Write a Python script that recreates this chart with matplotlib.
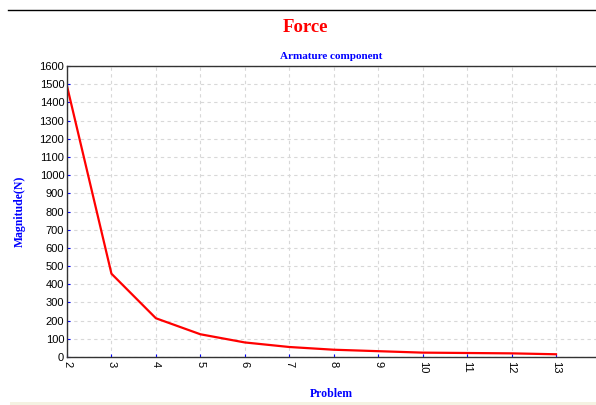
import matplotlib
matplotlib.use("Agg")
from matplotlib import pyplot as plt
from matplotlib.lines import Line2D
from matplotlib.patches import Rectangle

problem = [2, 3, 4, 5, 6, 7, 8, 9, 10, 11, 12, 13]
magnitude = [1490, 458, 213, 125, 80, 55, 40, 32, 24, 22, 20, 15]
y_ticks = list(range(0, 1700, 100))

serif = "Liberation Serif"
sans = "Liberation Sans"

fig = plt.figure(figsize=(5.96, 4.05), dpi=100)
ax = fig.add_axes([67 / 596, 1 - 357 / 405, 1 - 67 / 596, (357 - 66) / 405])

ax.plot(problem, magnitude, color="red", lw=1.6)
ax.set_xlim(2, 13.9)
ax.set_ylim(0, 1600)
ax.set_xticks(problem)
ax.set_yticks(y_ticks)
ax.set_xticklabels([str(p) for p in problem], rotation=-90, family=sans, fontsize=8)
ax.set_yticklabels([str(v) for v in y_ticks], family=sans, fontsize=8)
ax.tick_params(direction="in", length=2, color="blue", pad=2)
ax.tick_params(axis="x", pad=3)
ax.grid(ls=(0, (3, 3)), color="#d8d8d8", lw=0.8)
ax.spines["right"].set_visible(False)
for s in ["top", "bottom", "left"]:
    ax.spines[s].set_color("#333333")
    ax.spines[s].set_linewidth(1.0)

ax.set_title("Armature component", family=serif, fontweight="bold", color="blue", fontsize=8, pad=5)
ax.set_xlabel("Problem", family=serif, fontweight="bold", color="blue", fontsize=8.5, labelpad=10)
ax.set_ylabel("Magnitude(N)", family=serif, fontweight="bold", color="blue", fontsize=8.5, labelpad=10)

fig.text(305 / 596, 1 - 27 / 405, "Force", family=serif, fontweight="bold", color="red",
         fontsize=13.5, ha="center", va="center")
fig.add_artist(Line2D([8 / 596, 1], [1 - 10 / 405, 1 - 10 / 405], color="black", lw=1))
fig.add_artist(Rectangle((10 / 596, 0), 1, 3 / 405, color="#f4f2e2", lw=0))

fig.savefig("out.png", dpi=100)
